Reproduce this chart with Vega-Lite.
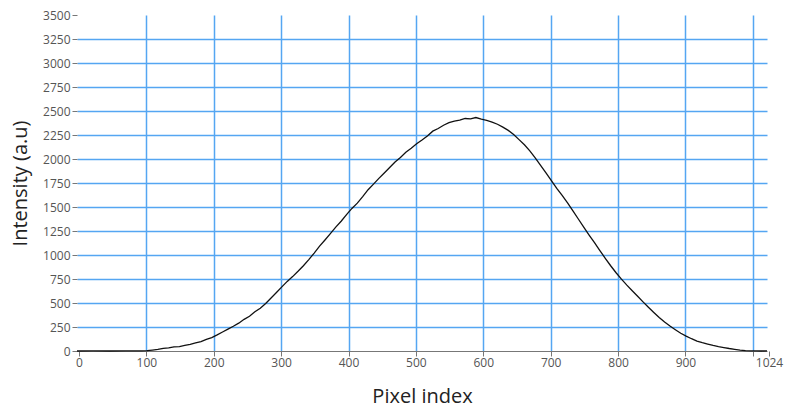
{
  "$schema": "https://vega.github.io/schema/vega-lite/v6.json",
  "autosize": {"type": "none"},
  "width": 690,
  "height": 336,
  "padding": {"left": 77, "top": 15, "right": 20, "bottom": 66},
  "background": "white",
  "config": {"view": {"stroke": null}, "font": "Open Sans"},
  "data": {"values": [
    {"px": 0, "v": 0}, {"px": 24, "v": 1}, {"px": 48, "v": 0}, {"px": 72, "v": 1}, {"px": 96, "v": 1},
    {"px": 104, "v": 4}, {"px": 112, "v": 10}, {"px": 120, "v": 17}, {"px": 128, "v": 28}, {"px": 136, "v": 33},
    {"px": 144, "v": 42}, {"px": 152, "v": 46}, {"px": 160, "v": 58}, {"px": 168, "v": 70}, {"px": 176, "v": 84},
    {"px": 184, "v": 98}, {"px": 192, "v": 122}, {"px": 200, "v": 140}, {"px": 208, "v": 168}, {"px": 216, "v": 198},
    {"px": 224, "v": 228}, {"px": 232, "v": 258}, {"px": 240, "v": 290}, {"px": 248, "v": 330}, {"px": 256, "v": 362},
    {"px": 264, "v": 408}, {"px": 272, "v": 446}, {"px": 280, "v": 495}, {"px": 288, "v": 552}, {"px": 296, "v": 610},
    {"px": 304, "v": 668}, {"px": 312, "v": 725}, {"px": 320, "v": 775}, {"px": 328, "v": 830}, {"px": 336, "v": 888},
    {"px": 344, "v": 952}, {"px": 352, "v": 1020}, {"px": 360, "v": 1092}, {"px": 368, "v": 1156}, {"px": 376, "v": 1222},
    {"px": 384, "v": 1290}, {"px": 392, "v": 1352}, {"px": 400, "v": 1420}, {"px": 408, "v": 1485}, {"px": 416, "v": 1540},
    {"px": 424, "v": 1608}, {"px": 432, "v": 1680}, {"px": 440, "v": 1738}, {"px": 448, "v": 1798}, {"px": 456, "v": 1855},
    {"px": 464, "v": 1912}, {"px": 472, "v": 1968}, {"px": 480, "v": 2016}, {"px": 488, "v": 2070}, {"px": 496, "v": 2112},
    {"px": 504, "v": 2158}, {"px": 512, "v": 2198}, {"px": 520, "v": 2240}, {"px": 528, "v": 2290}, {"px": 536, "v": 2318},
    {"px": 544, "v": 2352}, {"px": 552, "v": 2378}, {"px": 560, "v": 2395}, {"px": 568, "v": 2404}, {"px": 576, "v": 2422},
    {"px": 584, "v": 2418}, {"px": 592, "v": 2432}, {"px": 600, "v": 2415}, {"px": 608, "v": 2402}, {"px": 616, "v": 2385},
    {"px": 624, "v": 2362}, {"px": 632, "v": 2332}, {"px": 640, "v": 2298}, {"px": 648, "v": 2255}, {"px": 656, "v": 2202},
    {"px": 664, "v": 2148}, {"px": 672, "v": 2085}, {"px": 680, "v": 2012}, {"px": 688, "v": 1934}, {"px": 696, "v": 1855},
    {"px": 704, "v": 1775}, {"px": 712, "v": 1695}, {"px": 720, "v": 1620}, {"px": 728, "v": 1542}, {"px": 736, "v": 1460},
    {"px": 744, "v": 1375}, {"px": 752, "v": 1290}, {"px": 760, "v": 1208}, {"px": 768, "v": 1128}, {"px": 776, "v": 1046},
    {"px": 784, "v": 966}, {"px": 792, "v": 888}, {"px": 800, "v": 815}, {"px": 808, "v": 748}, {"px": 816, "v": 686},
    {"px": 824, "v": 628}, {"px": 832, "v": 570}, {"px": 840, "v": 512}, {"px": 848, "v": 456}, {"px": 856, "v": 402},
    {"px": 864, "v": 350}, {"px": 872, "v": 302}, {"px": 880, "v": 260}, {"px": 888, "v": 222}, {"px": 896, "v": 185},
    {"px": 904, "v": 155}, {"px": 912, "v": 128}, {"px": 920, "v": 104}, {"px": 928, "v": 87}, {"px": 936, "v": 72},
    {"px": 944, "v": 58}, {"px": 952, "v": 46}, {"px": 960, "v": 36}, {"px": 968, "v": 26}, {"px": 976, "v": 18},
    {"px": 984, "v": 10}, {"px": 992, "v": 4}, {"px": 1000, "v": 2}, {"px": 1008, "v": 1}, {"px": 1016, "v": 0},
    {"px": 1024, "v": 1}
  ]},
  "mark": {"type": "line", "color": "#111111", "strokeWidth": 1.3, "interpolate": "linear"},
  "encoding": {
    "x": {
      "field": "px", "type": "quantitative",
      "scale": {"domain": [0, 1024], "nice": false, "zero": false},
      "axis": {
        "title": "Pixel index",
        "values": [0, 100, 200, 300, 400, 500, 600, 700, 800, 900, 1000, 1024],
        "labelExpr": "datum.value == 1000 ? '' : datum.label",
        "format": "d",
        "grid": true,
        "gridColor": {"condition": {"test": "datum.value == 0 || datum.value == 1024", "value": "transparent"}, "value": "#55a6f2"},
        "gridWidth": 1.5,
        "domainColor": "#777777",
        "domainWidth": 1.2,
        "tickColor": "#777777",
        "tickSize": 5,
        "tickOffset": 2,
        "labelFont": "Open Sans",
        "labelFontSize": 12,
        "labelColor": "#555555",
        "labelPadding": 1,
        "labelFlush": false,
        "titleFont": "Open Sans",
        "titleFontSize": 20,
        "titleFontWeight": "normal",
        "titleColor": "#222222",
        "titlePadding": 18
      }
    },
    "y": {
      "field": "v", "type": "quantitative",
      "scale": {"domain": [0, 3500], "nice": false},
      "axis": {
        "title": "Intensity (a.u)",
        "values": [0, 250, 500, 750, 1000, 1250, 1500, 1750, 2000, 2250, 2500, 2750, 3000, 3250, 3500],
        "format": "d",
        "grid": true,
        "gridColor": {"condition": {"test": "datum.value == 0 || datum.value == 3500", "value": "transparent"}, "value": "#55a6f2"},
        "gridWidth": 1.5,
        "domain": false,
        "tickColor": "#777777",
        "tickSize": 5,
        "tickOffset": 0,
        "labelFont": "Open Sans",
        "labelFontSize": 12,
        "labelColor": "#555555",
        "labelPadding": 2,
        "labelFlush": false,
        "titleFont": "Open Sans",
        "titleFontSize": 20,
        "titleFontWeight": "normal",
        "titleColor": "#222222",
        "titlePadding": 12
      }
    }
  }
}
